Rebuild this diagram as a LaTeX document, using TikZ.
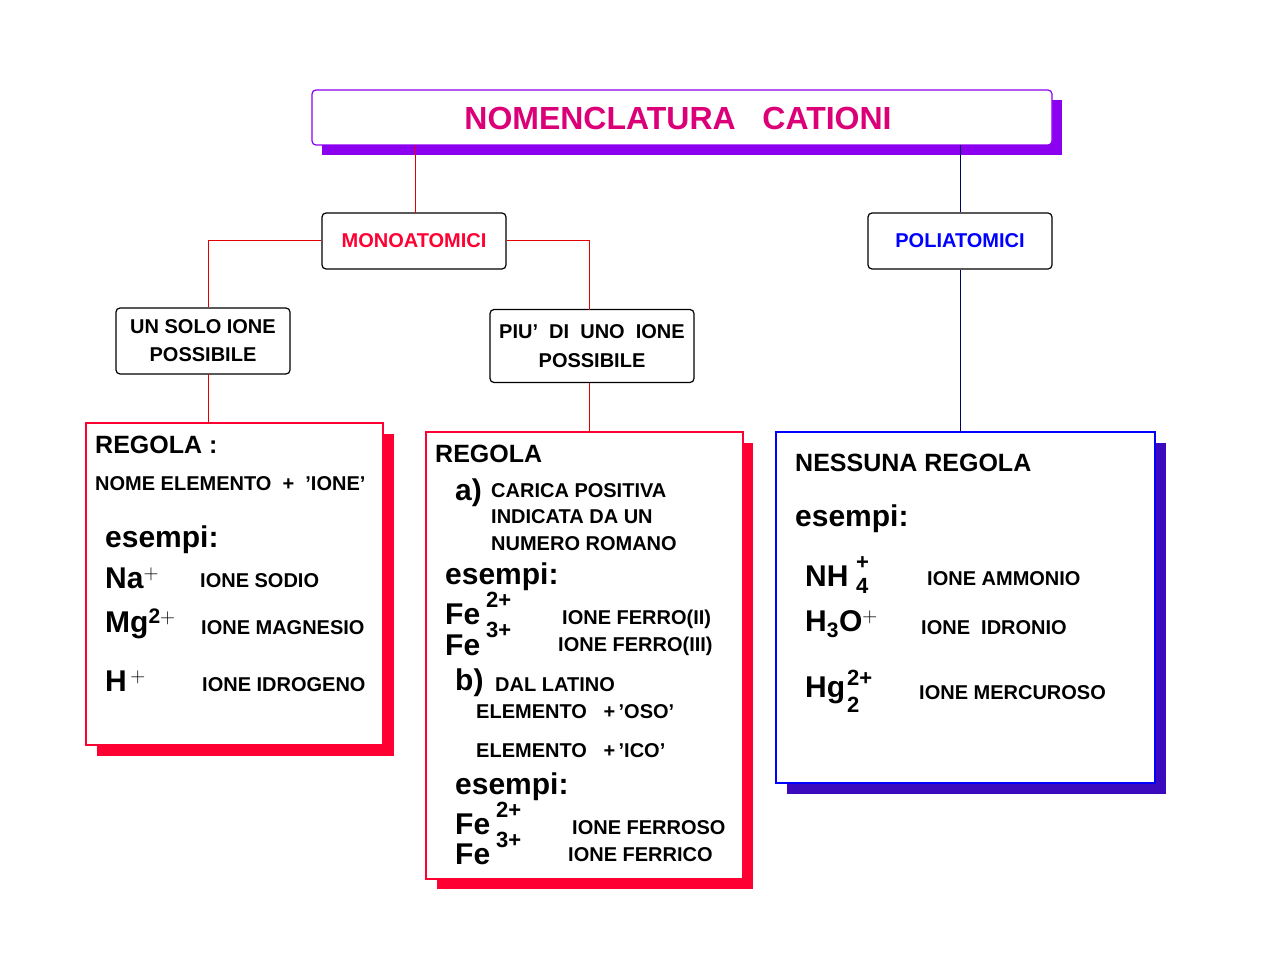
\documentclass[tikz,border=0pt]{standalone}
\usepackage{fontspec}
\setmainfont{Liberation Sans}
\begin{document}
\begin{tikzpicture}[x=1pt,y=-1pt,
  every node/.style={inner sep=0pt,font=\bfseries},
  box/.style={draw=black,line width=1.2pt,rounded corners=4pt,fill=white},
  t/.style={anchor=west,font=\bfseries\fontsize{20}{24}\selectfont},
  big/.style={anchor=west,font=\bfseries\fontsize{30}{34}\selectfont},
  rl/.style={draw=red!90!black,line width=1pt},
  bl/.style={draw=blue!40!black,line width=1pt}]
\definecolor{mag}{RGB}{220,0,120}
\definecolor{purp}{RGB}{140,0,240}
\definecolor{rr}{RGB}{255,0,50}
\definecolor{ind}{RGB}{60,10,190}
\useasboundingbox (0,0) rectangle (1280,960);
% title
\fill[purp] (322,100) rectangle (1062,155);
\draw[purp,line width=1.2pt,fill=white,rounded corners=4pt] (312,90) rectangle (1052,145);
\node[text=mag,font=\bfseries\fontsize{32}{36}\selectfont] (title) at (678,118) {NOMENCLATURA\ \ \ CATIONI};
% mid boxes
\node[box,minimum width=184pt,minimum height=56pt,text=rr,font=\bfseries\fontsize{20}{24}\selectfont] (mono) at (414,241) {MONOATOMICI};
\node[box,minimum width=184pt,minimum height=56pt,text=blue,font=\bfseries\fontsize{20}{24}\selectfont] (poli) at (960,241) {POLIATOMICI};
\node[box,minimum width=174pt,minimum height=66pt,align=center,font=\bfseries\fontsize{20}{28}\selectfont] (solo) at (203,341) {UN SOLO IONE\\POSSIBILE};
\node[box,minimum width=204pt,minimum height=73pt,align=center,font=\bfseries\fontsize{20}{29}\selectfont] (piu) at (592,346) {PIU'\ \ DI\ \ UNO\ \ IONE\\POSSIBILE};
% big boxes
\fill[rr] (97,434) rectangle (394,756);
\draw[rr,line width=1.2pt,fill=white] (86,423) rectangle (383,745);
\coordinate (lb) at (208,423);
\fill[rr] (437,443) rectangle (753,889);
\draw[rr,line width=1.2pt,fill=white] (426,432) rectangle (743,879);
\coordinate (mb) at (589,432);
\fill[ind] (787,443) rectangle (1166,794);
\draw[blue,line width=1.2pt,fill=white] (776,432) rectangle (1155,783);
\coordinate (rb) at (960,432);
% connectors
\coordinate (tl) at (415,145);
\coordinate (tr) at (960,145);
\draw[rl] (tl) -- (415,213);
\draw[bl] (tr) -- (poli.north);
\draw[bl] (poli.south) -- (rb);
\draw[rl] (mono.west) -| (solo.north -| 208,0);
\draw[rl] (mono.east) -| (589,310);
\draw[rl] (208,374) -- (lb);
\draw[rl] (589,383) -- (mb);
% left content
\node[anchor=west,font=\bfseries\fontsize{25}{28}\selectfont] (l1) at (95,445) {REGOLA :};
\node[t] (l2) at (95,484) {NOME ELEMENTO\ \ +\ \ 'IONE'};
\node[big] (l3) at (105,540) {esempi:};
\node[big] (l4) at (105,578) {Na$^{\mathbf{+}}$};
\node[t] (l5) at (200,581) {IONE SODIO};
\node[big] (l6) at (105,624) {Mg$^{\mathbf{2+}}$};
\node[t] (l7) at (201,628) {IONE MAGNESIO};
\node[big] (l8) at (105,681) {H$^{\,\mathbf{+}}$};
\node[t] (l9) at (202,685) {IONE IDROGENO};
% middle content
\node[anchor=west,font=\bfseries\fontsize{25}{28}\selectfont] (m1) at (435,454) {REGOLA};
\node[big] (m2) at (455,493) {a)};
\node[t,align=left,font=\bfseries\fontsize{20}{26.5}\selectfont,anchor=north west] (m3) at (491,483) {CARICA POSITIVA\\INDICATA DA UN\\NUMERO ROMANO};
\node[big] (m4) at (445,577) {esempi:};
\node[big] (m5) at (445,614) {Fe};
\node[big] (m6) at (445,645) {Fe};
\node[anchor=west,font=\bfseries\fontsize{22}{24}\selectfont] (m7) at (486,600) {2+};
\node[anchor=west,font=\bfseries\fontsize{22}{24}\selectfont] (m8) at (486,630) {3+};
\node[t] (m9) at (562,619) {IONE FERRO(II)};
\node[t] (m10) at (558,646) {IONE FERRO(III)};
\node[big] (m11) at (455,683) {b)};
\node[t] (m12) at (495,685) {DAL LATINO};
\node[t] (m13) at (476,712) {ELEMENTO\ \ \ +\,'OSO'};
\node[t] (m14) at (476,751) {ELEMENTO\ \ \ +\,'ICO'};
\node[big] (m15) at (455,787) {esempi:};
\node[big] (m16) at (455,824) {Fe};
\node[big] (m17) at (455,854) {Fe};
\node[anchor=west,font=\bfseries\fontsize{22}{24}\selectfont] (m18) at (496,810) {2+};
\node[anchor=west,font=\bfseries\fontsize{22}{24}\selectfont] (m19) at (496,840) {3+};
\node[t] (m20) at (572,828) {IONE FERROSO};
\node[t] (m21) at (568,855) {IONE FERRICO};
% right content
\node[anchor=west,font=\bfseries\fontsize{25}{28}\selectfont] (r1) at (795,463) {NESSUNA REGOLA};
\node[big] (r2) at (795,519) {esempi:};
\node[big] (r3) at (805,576) {NH};
\node[anchor=west,font=\bfseries\fontsize{22}{24}\selectfont] (r4) at (856,563) {+};
\node[anchor=west,font=\bfseries\fontsize{22}{24}\selectfont] (r5) at (856,586) {4};
\node[t] (r6) at (927,579) {IONE AMMONIO};
\node[big] (r7) at (805,624) {H$_{\mathbf{3}}$O$^{\mathbf{+}}$};
\node[t] (r8) at (921,628) {IONE\ \ IDRONIO};
\node[big] (r9) at (805,690) {Hg};
\node[anchor=west,font=\bfseries\fontsize{22}{24}\selectfont] (r10) at (847,678) {2+};
\node[anchor=west,font=\bfseries\fontsize{22}{24}\selectfont] (r11) at (847,705) {2};
\node[t] (r12) at (919,693) {IONE MERCUROSO};
\end{tikzpicture}
\end{document}
